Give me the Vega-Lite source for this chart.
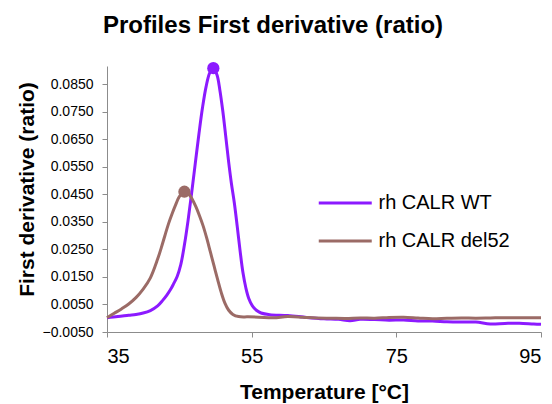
{
  "$schema": "https://vega.github.io/schema/vega-lite/v6.json",
  "width": 434,
  "height": 266,
  "autosize": "none",
  "padding": {"left": 107, "top": 66, "right": 11, "bottom": 72},
  "config": {
    "view": {"stroke": null},
    "font": "Liberation Sans"
  },
  "title": {
    "text": "Profiles First derivative (ratio)",
    "font": "Liberation Sans",
    "fontSize": 24,
    "fontWeight": "bold",
    "color": "#000000",
    "anchor": "middle",
    "dx": -51,
    "baseline": "alphabetic",
    "offset": 5
  },
  "datasets": {
    "curves": [
      {"series": "rh CALR WT", "T": 35, "v": 0.0002},
      {"series": "rh CALR WT", "T": 36.5, "v": 0.0006},
      {"series": "rh CALR WT", "T": 38, "v": 0.0011},
      {"series": "rh CALR WT", "T": 39, "v": 0.0014},
      {"series": "rh CALR WT", "T": 40, "v": 0.0019},
      {"series": "rh CALR WT", "T": 41, "v": 0.0028},
      {"series": "rh CALR WT", "T": 42, "v": 0.0045},
      {"series": "rh CALR WT", "T": 42.7, "v": 0.0065},
      {"series": "rh CALR WT", "T": 43.3, "v": 0.0085},
      {"series": "rh CALR WT", "T": 43.8, "v": 0.0105},
      {"series": "rh CALR WT", "T": 44.2, "v": 0.0125},
      {"series": "rh CALR WT", "T": 44.7, "v": 0.0152},
      {"series": "rh CALR WT", "T": 45.2, "v": 0.0195},
      {"series": "rh CALR WT", "T": 45.7, "v": 0.0266},
      {"series": "rh CALR WT", "T": 46.2, "v": 0.0354},
      {"series": "rh CALR WT", "T": 46.7, "v": 0.0455},
      {"series": "rh CALR WT", "T": 47.2, "v": 0.0562},
      {"series": "rh CALR WT", "T": 47.7, "v": 0.0668},
      {"series": "rh CALR WT", "T": 48.2, "v": 0.0765},
      {"series": "rh CALR WT", "T": 48.7, "v": 0.0842},
      {"series": "rh CALR WT", "T": 49.2, "v": 0.0892},
      {"series": "rh CALR WT", "T": 49.7, "v": 0.0909},
      {"series": "rh CALR WT", "T": 50.2, "v": 0.0885},
      {"series": "rh CALR WT", "T": 50.6, "v": 0.0830},
      {"series": "rh CALR WT", "T": 51.0, "v": 0.0755},
      {"series": "rh CALR WT", "T": 51.4, "v": 0.0665},
      {"series": "rh CALR WT", "T": 51.8, "v": 0.0572},
      {"series": "rh CALR WT", "T": 52.2, "v": 0.0490},
      {"series": "rh CALR WT", "T": 52.6, "v": 0.0420},
      {"series": "rh CALR WT", "T": 53.0, "v": 0.0335},
      {"series": "rh CALR WT", "T": 53.4, "v": 0.0245},
      {"series": "rh CALR WT", "T": 53.8, "v": 0.0165},
      {"series": "rh CALR WT", "T": 54.2, "v": 0.0110},
      {"series": "rh CALR WT", "T": 54.6, "v": 0.0072},
      {"series": "rh CALR WT", "T": 55.1, "v": 0.0045},
      {"series": "rh CALR WT", "T": 55.7, "v": 0.0028},
      {"series": "rh CALR WT", "T": 56.3, "v": 0.0019},
      {"series": "rh CALR WT", "T": 57.5, "v": 0.0013},
      {"series": "rh CALR WT", "T": 60, "v": 0.0010},
      {"series": "rh CALR WT", "T": 62.6, "v": 0.0003},
      {"series": "rh CALR WT", "T": 65, "v": -0.0002},
      {"series": "rh CALR WT", "T": 67, "v": -0.0004},
      {"series": "rh CALR WT", "T": 68.6, "v": -0.0009},
      {"series": "rh CALR WT", "T": 70, "v": -0.0004},
      {"series": "rh CALR WT", "T": 72, "v": -0.0005},
      {"series": "rh CALR WT", "T": 74, "v": -0.0007},
      {"series": "rh CALR WT", "T": 76, "v": -0.0006},
      {"series": "rh CALR WT", "T": 78, "v": -0.0010},
      {"series": "rh CALR WT", "T": 80, "v": -0.0010},
      {"series": "rh CALR WT", "T": 82, "v": -0.0013},
      {"series": "rh CALR WT", "T": 84, "v": -0.0014},
      {"series": "rh CALR WT", "T": 86, "v": -0.0014},
      {"series": "rh CALR WT", "T": 88, "v": -0.0021},
      {"series": "rh CALR WT", "T": 90, "v": -0.0019},
      {"series": "rh CALR WT", "T": 92, "v": -0.0018},
      {"series": "rh CALR WT", "T": 94, "v": -0.0021},
      {"series": "rh CALR WT", "T": 95, "v": -0.0022},
      {"series": "rh CALR del52", "T": 35, "v": 0.0002},
      {"series": "rh CALR del52", "T": 36, "v": 0.0018},
      {"series": "rh CALR del52", "T": 37, "v": 0.0034},
      {"series": "rh CALR del52", "T": 38, "v": 0.0052},
      {"series": "rh CALR del52", "T": 39, "v": 0.0075},
      {"series": "rh CALR del52", "T": 40, "v": 0.0106},
      {"series": "rh CALR del52", "T": 41, "v": 0.0147},
      {"series": "rh CALR del52", "T": 42, "v": 0.0215},
      {"series": "rh CALR del52", "T": 42.5, "v": 0.0256},
      {"series": "rh CALR del52", "T": 43, "v": 0.0300},
      {"series": "rh CALR del52", "T": 43.5, "v": 0.0343},
      {"series": "rh CALR del52", "T": 44, "v": 0.0380},
      {"series": "rh CALR del52", "T": 44.5, "v": 0.0413},
      {"series": "rh CALR del52", "T": 45, "v": 0.0442},
      {"series": "rh CALR del52", "T": 45.7, "v": 0.0460},
      {"series": "rh CALR del52", "T": 46.3, "v": 0.0452},
      {"series": "rh CALR del52", "T": 46.8, "v": 0.0432},
      {"series": "rh CALR del52", "T": 47.3, "v": 0.0405},
      {"series": "rh CALR del52", "T": 47.8, "v": 0.0372},
      {"series": "rh CALR del52", "T": 48.3, "v": 0.0335},
      {"series": "rh CALR del52", "T": 48.8, "v": 0.0290},
      {"series": "rh CALR del52", "T": 49.3, "v": 0.0240},
      {"series": "rh CALR del52", "T": 49.8, "v": 0.0190},
      {"series": "rh CALR del52", "T": 50.3, "v": 0.0140},
      {"series": "rh CALR del52", "T": 50.8, "v": 0.0093},
      {"series": "rh CALR del52", "T": 51.3, "v": 0.0055},
      {"series": "rh CALR del52", "T": 51.8, "v": 0.0030},
      {"series": "rh CALR del52", "T": 52.4, "v": 0.0014},
      {"series": "rh CALR del52", "T": 53.2, "v": 0.0006},
      {"series": "rh CALR del52", "T": 54.5, "v": 0.0005},
      {"series": "rh CALR del52", "T": 56, "v": 0.0004},
      {"series": "rh CALR del52", "T": 58, "v": 0.0002},
      {"series": "rh CALR del52", "T": 60, "v": 0.0006},
      {"series": "rh CALR del52", "T": 62, "v": 0.0004},
      {"series": "rh CALR del52", "T": 64, "v": 0.0001},
      {"series": "rh CALR del52", "T": 66, "v": 0.0000},
      {"series": "rh CALR del52", "T": 68, "v": -0.0001},
      {"series": "rh CALR del52", "T": 70, "v": 0.0001},
      {"series": "rh CALR del52", "T": 72, "v": 0.0000},
      {"series": "rh CALR del52", "T": 74, "v": 0.0003},
      {"series": "rh CALR del52", "T": 76, "v": 0.0004},
      {"series": "rh CALR del52", "T": 78, "v": 0.0001},
      {"series": "rh CALR del52", "T": 80, "v": -0.0002},
      {"series": "rh CALR del52", "T": 82, "v": 0.0000},
      {"series": "rh CALR del52", "T": 84, "v": 0.0001},
      {"series": "rh CALR del52", "T": 86, "v": 0.0000},
      {"series": "rh CALR del52", "T": 88, "v": 0.0001},
      {"series": "rh CALR del52", "T": 90, "v": 0.0002},
      {"series": "rh CALR del52", "T": 92, "v": 0.0002},
      {"series": "rh CALR del52", "T": 95, "v": 0.0002}
    ],
    "peaks": [
      {"series": "rh CALR WT", "T": 49.7, "v": 0.0909},
      {"series": "rh CALR del52", "T": 45.7, "v": 0.0460}
    ]
  },
  "encoding": {
    "x": {
      "field": "T",
      "type": "quantitative",
      "scale": {"domain": [35, 95], "nice": false, "zero": false},
      "axis": {
        "values": [35, 55, 75, 95],
        "grid": false,
        "domainColor": "#8c8c8c",
        "tickColor": "#8c8c8c",
        "tickSize": 5,
        "labelFontSize": 20,
        "labelColor": "#000000",
        "labelPadding": 9,
        "labelFont": "Liberation Sans",
        "title": "Temperature [°C]",
        "titleFont": "Liberation Sans",
        "titleFontSize": 21,
        "titleFontWeight": "bold",
        "titleColor": "#000000",
        "titleBaseline": "alphabetic",
        "titleY": 66
      }
    },
    "y": {
      "field": "v",
      "type": "quantitative",
      "scale": {"domain": [-0.005, 0.0917], "nice": false, "zero": false},
      "axis": {
        "values": [-0.005, 0.005, 0.015, 0.025, 0.035, 0.045, 0.055, 0.065, 0.075, 0.085],
        "format": ".4f",
        "grid": false,
        "domainColor": "#8c8c8c",
        "tickColor": "#8c8c8c",
        "tickSize": 5,
        "labelFontSize": 14,
        "labelColor": "#000000",
        "labelPadding": 9,
        "labelFont": "Liberation Sans",
        "title": "First derivative (ratio)",
        "titleFont": "Liberation Sans",
        "titleFontSize": 21,
        "titleFontWeight": "bold",
        "titleColor": "#000000",
        "titleAngle": -90,
        "titleAlign": "center",
        "titleBaseline": "alphabetic",
        "titleX": -74,
        "titleY": 123
      }
    },
    "color": {
      "field": "series",
      "type": "nominal",
      "scale": {"domain": ["rh CALR WT", "rh CALR del52"], "range": ["#8c1aff", "#9b6b66"]},
      "legend": {
        "title": null,
        "orient": "none",
        "legendX": 236.5,
        "legendY": 122,
        "padding": 0,
        "symbolType": "M-3,0H1",
        "symbolSize": 702,
        "symbolStrokeWidth": 3,
        "labelFontSize": 20,
        "labelFont": "Liberation Sans",
        "labelColor": "#000000",
        "labelOffset": 5,
        "rowPadding": 13
      }
    }
  },
  "layer": [
    {
      "data": {"name": "curves"},
      "mark": {"type": "line", "strokeWidth": 3, "interpolate": "catmull-rom"}
    },
    {
      "data": {"name": "peaks"},
      "mark": {"type": "point", "filled": true, "opacity": 1, "size": 150, "shape": "circle"}
    }
  ]
}
